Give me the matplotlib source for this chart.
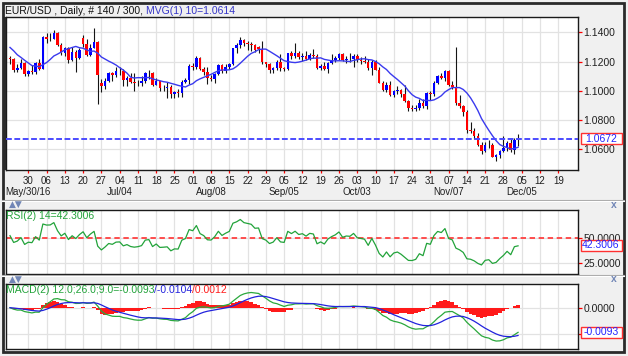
import numpy as np
import pandas as pd
import matplotlib
matplotlib.use("Agg")
import matplotlib.pyplot as plt
from matplotlib.patches import Rectangle
from matplotlib.lines import Line2D
from matplotlib.text import Annotation
from matplotlib.ticker import FormatStrFormatter

plt.rcParams['font.family'] = ['Liberation Sans', 'DejaVu Sans']

symbol_title = "EUR/USD , Daily, # 140 / 300, "
mvg_title = "MVG(1) 10=1.0614"
rsi_title = "RSI(2) 14=42.3006"
macd_title = ["MACD(2) 12.0;26.0;9.0=-0.0093", "/-0.0104", "/0.0012"]

last_price = 1.0672
last_rsi = 42.3006
last_macd = -0.0093

# closes before the first shown bar (Apr 22 - May 20), only used to warm up MA / RSI
pre_close = [1.1225, 1.1265, 1.1300, 1.1315, 1.1355, 1.1455, 1.1545, 1.1500, 1.1490, 1.1405,
             1.1405, 1.1385, 1.1373, 1.1428, 1.1370, 1.1310, 1.1313, 1.1314, 1.1217, 1.1202,
             1.1223]

# daily bars May 23 - Dec 02 2016, one line per week
opens = [1.1225, 1.1214, 1.1143, 1.1156, 1.1190,
         1.1114, 1.1135, 1.1130, 1.1187, 1.1152,
         1.1366, 1.1355, 1.1357, 1.1395, 1.1315,
         1.1255, 1.1290, 1.1212, 1.1262, 1.1226,
         1.1360, 1.1318, 1.1245, 1.1295, 1.1335,
         1.1055, 1.1030, 1.1070, 1.1120, 1.1105,
         1.1135, 1.1138, 1.1075, 1.1090, 1.1060,
         1.1050, 1.1055, 1.1065, 1.1120, 1.1125,
         1.1040, 1.1065, 1.1020, 1.1022, 1.1025,
         1.0975, 1.0990, 1.0988, 1.1060, 1.1075,
         1.1170, 1.1160, 1.1225, 1.1150, 1.1130,
         1.1085, 1.1082, 1.1115, 1.1175, 1.1135,
         1.1160, 1.1180, 1.1290, 1.1312, 1.1350,
         1.1325, 1.1318, 1.1312, 1.1300, 1.1285,
         1.1195, 1.1180, 1.1145, 1.1157, 1.1195,
         1.1155, 1.1150, 1.1255, 1.1235, 1.1260,
         1.1232, 1.1240, 1.1220, 1.1245, 1.1240,
         1.1155, 1.1170, 1.1150, 1.1190, 1.1210,
         1.1225, 1.1250, 1.1210, 1.1220, 1.1218,
         1.1240, 1.1210, 1.1205, 1.1200, 1.1155,
         1.1200, 1.1145, 1.1055, 1.1005, 1.1040,
         1.0970, 1.0998, 1.1005, 1.0975, 1.0930,
         1.0880, 1.0878, 1.0885, 1.0920, 1.0895,
         1.0985, 1.0975, 1.1055, 1.1100, 1.1090,
         1.1135, 1.1040, 1.1025, 1.0920, 1.0895,
         1.0855, 1.0735, 1.0725, 1.0690, 1.0630,
         1.0590, 1.0627, 1.0632, 1.0550, 1.0558,
         1.0587, 1.0612, 1.0645, 1.0593, 1.0664]
highs = [1.1240, 1.1225, 1.1180, 1.1215, 1.1200,
         1.1145, 1.1175, 1.1198, 1.1215, 1.1375,
         1.1392, 1.1395, 1.1415, 1.1405, 1.1330,
         1.1298, 1.1298, 1.1300, 1.1280, 1.1295,
         1.1380, 1.1355, 1.1318, 1.1428, 1.1340,
         1.1080, 1.1090, 1.1130, 1.1130, 1.1165,
         1.1160, 1.1150, 1.1100, 1.1120, 1.1120,
         1.1075, 1.1100, 1.1130, 1.1145, 1.1130,
         1.1085, 1.1070, 1.1040, 1.1060, 1.1040,
         1.1000, 1.1010, 1.1075, 1.1090, 1.1180,
         1.1190, 1.1235, 1.1230, 1.1165, 1.1165,
         1.1110, 1.1125, 1.1185, 1.1185, 1.1180,
         1.1190, 1.1295, 1.1325, 1.1368, 1.1355,
         1.1340, 1.1335, 1.1318, 1.1305, 1.1342,
         1.1200, 1.1190, 1.1165, 1.1210, 1.1250,
         1.1165, 1.1260, 1.1270, 1.1327, 1.1275,
         1.1255, 1.1270, 1.1255, 1.1285, 1.1250,
         1.1185, 1.1200, 1.1200, 1.1250, 1.1235,
         1.1260, 1.1260, 1.1240, 1.1255, 1.1250,
         1.1250, 1.1230, 1.1240, 1.1215, 1.1210,
         1.1210, 1.1160, 1.1070, 1.1060, 1.1070,
         1.1005, 1.1030, 1.1010, 1.1040, 1.0940,
         1.0900, 1.0900, 1.0945, 1.0945, 1.0990,
         1.1000, 1.1070, 1.1105, 1.1125, 1.1145,
         1.1140, 1.1070, 1.1300, 1.0970, 1.0900,
         1.0870, 1.0790, 1.0745, 1.0710, 1.0650,
         1.0650, 1.0665, 1.0640, 1.0570, 1.0595,
         1.0688, 1.0660, 1.0668, 1.0680, 1.0705]
lows = [1.1185, 1.1130, 1.1131, 1.1148, 1.1100,
        1.1100, 1.1116, 1.1118, 1.1145, 1.1146,
        1.1330, 1.1340, 1.1352, 1.1305, 1.1245,
        1.1237, 1.1193, 1.1205, 1.1130, 1.1220,
        1.1300, 1.1235, 1.1235, 1.1290, 1.0912,
        1.0990, 1.1010, 1.1060, 1.1070, 1.1095,
        1.1110, 1.1030, 1.1030, 1.1050, 1.1000,
        1.1035, 1.1030, 1.1050, 1.1080, 1.1030,
        1.1040, 1.1000, 1.1000, 1.0950, 1.0950,
        1.0950, 1.0955, 1.0955, 1.1050, 1.1045,
        1.1140, 1.1150, 1.1145, 1.1110, 1.1045,
        1.1070, 1.1055, 1.1105, 1.1125, 1.1120,
        1.1150, 1.1175, 1.1255, 1.1290, 1.1305,
        1.1280, 1.1272, 1.1262, 1.1255, 1.1180,
        1.1160, 1.1120, 1.1125, 1.1145, 1.1135,
        1.1135, 1.1140, 1.1220, 1.1225, 1.1220,
        1.1205, 1.1210, 1.1210, 1.1225, 1.1150,
        1.1145, 1.1140, 1.1120, 1.1180, 1.1195,
        1.1210, 1.1205, 1.1190, 1.1200, 1.1160,
        1.1195, 1.1180, 1.1190, 1.1140, 1.1105,
        1.1140, 1.1050, 1.1000, 1.0990, 1.0965,
        1.0960, 1.0980, 1.0960, 1.0925, 1.0865,
        1.0860, 1.0860, 1.0870, 1.0880, 1.0875,
        1.0940, 1.0965, 1.1045, 1.1080, 1.1070,
        1.1030, 1.1010, 1.0905, 1.0880, 1.0830,
        1.0710, 1.0710, 1.0670, 1.0620, 1.0570,
        1.0585, 1.0610, 1.0545, 1.0518, 1.0540,
        1.0580, 1.0590, 1.0580, 1.0565, 1.0625]
closes = [1.1214, 1.1143, 1.1156, 1.1190, 1.1114,
          1.1135, 1.1130, 1.1187, 1.1152, 1.1366,
          1.1355, 1.1357, 1.1395, 1.1315, 1.1255,
          1.1290, 1.1212, 1.1262, 1.1226, 1.1278,
          1.1318, 1.1245, 1.1295, 1.1335, 1.1110,
          1.1030, 1.1070, 1.1120, 1.1105, 1.1135,
          1.1138, 1.1075, 1.1090, 1.1060, 1.1050,
          1.1055, 1.1065, 1.1120, 1.1125, 1.1040,
          1.1065, 1.1020, 1.1022, 1.1025, 1.0975,
          1.0990, 1.0988, 1.1060, 1.1075, 1.1170,
          1.1160, 1.1225, 1.1150, 1.1130, 1.1085,
          1.1082, 1.1115, 1.1175, 1.1135, 1.1160,
          1.1180, 1.1290, 1.1312, 1.1350, 1.1325,
          1.1318, 1.1312, 1.1282, 1.1285, 1.1195,
          1.1180, 1.1145, 1.1157, 1.1195, 1.1155,
          1.1150, 1.1255, 1.1235, 1.1260, 1.1232,
          1.1240, 1.1220, 1.1245, 1.1240, 1.1155,
          1.1170, 1.1150, 1.1190, 1.1210, 1.1225,
          1.1250, 1.1210, 1.1220, 1.1218, 1.1240,
          1.1210, 1.1205, 1.1200, 1.1155, 1.1200,
          1.1145, 1.1055, 1.1005, 1.1040, 1.0970,
          1.0998, 1.1005, 1.0975, 1.0930, 1.0880,
          1.0878, 1.0885, 1.0920, 1.0895, 1.0985,
          1.0975, 1.1055, 1.1100, 1.1090, 1.1135,
          1.1040, 1.1025, 1.0920, 1.0895, 1.0855,
          1.0735, 1.0725, 1.0690, 1.0630, 1.0590,
          1.0627, 1.0632, 1.0550, 1.0558, 1.0587,
          1.0612, 1.0645, 1.0593, 1.0664, 1.0672]

month_labels = ["May/30/16", "Jul/04", "Aug/08", "Sep/05", "Oct/03", "Nov/07", "Dec/05"]
month_dates = ["2016-05-30", "2016-07-04", "2016-08-08", "2016-09-05",
               "2016-10-03", "2016-11-07", "2016-12-05"]

n = len(closes)
dates = pd.bdate_range("2016-05-23", periods=n + 11)
week_ticks = [i for i, d in enumerate(dates) if d.weekday() == 0 and i > 0]
week_labels = [dates[i].strftime("%d") for i in week_ticks]
month_pos = [dates.get_loc(pd.Timestamp(d)) for d in month_dates]

# indicators
cs = pd.Series(pre_close + closes)
ma10 = cs.rolling(10).mean().iloc[len(pre_close):].to_numpy()
delta = cs.diff()
gain = delta.clip(lower=0).ewm(alpha=1 / 14, adjust=False).mean()
loss = (-delta.clip(upper=0)).ewm(alpha=1 / 14, adjust=False).mean()
rsi = (100 - 100 / (1 + gain / loss)).iloc[len(pre_close):].to_numpy()
c = pd.Series(closes)
macd = c.ewm(span=12, adjust=False).mean() - c.ewm(span=26, adjust=False).mean()
signal = macd.ewm(span=9, adjust=False).mean()
hist = macd - signal

W, H = 628, 356
BG = '#f0f0f0'
GRID = '#e2e2e2'
GREEN = '#22a33a'
BLUE = '#2222dd'
RED = '#ff1a1a'


def rect(x0, y0, x1, y1):
    return [x0 / W, 1 - y1 / H, (x1 - x0) / W, (y1 - y0) / H]


fig = plt.figure(figsize=(W / 100, H / 100), dpi=100, facecolor=BG)
ax = fig.add_axes(rect(5.5, 17, 578, 170))
ax_rsi = fig.add_axes(rect(5.5, 210, 578, 274))
ax_macd = fig.add_axes(rect(5.5, 284, 578, 349))

x = np.arange(n)
o, hi, lo, cl = map(np.array, (opens, highs, lows, closes))
body = cl - o
body = np.where(np.abs(body) < 0.00015, 0.00015, body)
colors = np.where(cl >= o, '#0000ff', '#ff0000')

ax.vlines(x, lo, hi, color='#151515', lw=0.8, zorder=2)
ax.bar(x, body, bottom=o, width=0.7, color=colors, zorder=3)
ax.plot(x, ma10, color='#3a3aee', lw=1.0, zorder=4)
ax.axhline(last_price, color='#4b4bff', lw=1.4, ls=(0, (3, 1.3)), zorder=5)

ax.set_ylim(1.04587, 1.15044)
ax.set_yticks([1.06, 1.08, 1.10, 1.12, 1.14])
ax.yaxis.set_major_formatter(FormatStrFormatter('%.4f'))

ax_rsi.plot(x, rsi, color=GREEN, lw=0.9, zorder=3)
ax_rsi.axhline(50, color='#ff4040', lw=1.3, ls=(0, (3, 2)), zorder=2)
ax_rsi.set_ylim(13.7, 77.7)
ax_rsi.set_yticks([25, 50])
ax_rsi.yaxis.set_major_formatter(FormatStrFormatter('%.4f'))

ax_macd.bar(x, hist, width=1.0, color=RED, zorder=2)
ax_macd.plot(x, macd, color='#2aa83c', lw=0.9, zorder=3)
ax_macd.plot(x, signal, color=BLUE, lw=0.9, zorder=3)
ax_macd.set_ylim(-0.01555, 0.00892)
ax_macd.set_yticks([-0.01, 0.0])
ax_macd.set_yticklabels(['', '0.0000'])

for a in (ax, ax_rsi, ax_macd):
    a.set_facecolor('white')
    a.set_xlim(-1.23, 155.4)
    a.set_xticks(week_ticks)
    a.grid(True, color=GRID, lw=0.9)
    a.set_axisbelow(True)
    a.yaxis.tick_right()
    a.tick_params(axis='y', direction='out', length=3, width=0.9, color='#ff0000',
                  pad=1, labelsize=7.5, labelcolor='#202020')
    for s in a.spines.values():
        s.set_color('#1a1a1a')
        s.set_linewidth(1.0)

ax.set_xticklabels(week_labels)
ax.tick_params(axis='x', direction='out', length=2.5, width=0.9, color='#ff0000',
               pad=2, labelsize=7, labelcolor='#202020')
for a in (ax_rsi, ax_macd):
    a.tick_params(axis='x', length=0, labelbottom=False)

for lab, p in zip(month_labels, month_pos):
    ax.annotate(lab, xy=(p, 0), xycoords=('data', 'axes fraction'), xytext=(0, -15.8),
                textcoords='offset points', ha='center', va='center', fontsize=7,
                color='#202020', annotation_clip=False)

# title bar
t1 = fig.text(5 / W, 1 - 10.5 / H, symbol_title, fontsize=7.5, color='#101010', va='center')
fig.add_artist(Annotation(mvg_title, xy=(1, 0), xycoords=t1, va='bottom', ha='left',
                          fontsize=7.5, color='#3535c8'))

# panel labels
ax_rsi.text(0.0, 1 - 6 / 64, rsi_title, transform=ax_rsi.transAxes, fontsize=7.5,
            color=GREEN, va='center', ha='left')
m1 = ax_macd.text(0.0, 1 - 6 / 65, macd_title[0], transform=ax_macd.transAxes,
                  fontsize=7.5, color=GREEN, va='center', ha='left')
m2 = ax_macd.annotate(macd_title[1], xy=(1, 0), xycoords=m1, va='bottom', ha='left',
                      fontsize=7.5, color=BLUE)
ax_macd.annotate(macd_title[2], xy=(1, 0), xycoords=m2, va='bottom', ha='left',
                 fontsize=7.5, color=RED)


def value_box(a, val, txt):
    y = a.transData.transform((0, val))[1] / fig.bbox.height
    fig.add_artist(Rectangle((580.5 / W, y - 5.5 / H), 41 / W, 11 / H, transform=fig.transFigure,
                             fc='white', ec='#ff3030', lw=1.0, zorder=5))
    fig.text(601 / W, y, txt, ha='center', va='center', color='#2323ff', fontsize=7.5, zorder=6)


value_box(ax, last_price, f"{last_price:.4f}")
value_box(ax_rsi, last_rsi, f"{last_rsi:.4f}")
value_box(ax_macd, last_macd, f"{last_macd:.4f}")

# separators, panel buttons and outer frame
for yy, yb in ((199.5, 204.5), (275.0, 279.5)):
    fig.add_artist(Line2D([2 / W, 624 / W], [1 - yy / H] * 2, color='#a9a9a9', lw=0.8))
    fig.add_artist(Line2D([2 / W, 624 / W], [1 - (yy + 1.2) / H] * 2, color='white', lw=0.8))
    fig.text(9 / W, 1 - yb / H, "\u25b2\u25bc", fontsize=6.5, color='#7186b6', va='center',
             family='DejaVu Sans')
    fig.text(613.5 / W, 1 - yb / H, "x", fontsize=7.5, fontweight='bold', color='#7186b6',
             va='center', ha='center')

# thick dark left edge next to the price panel
fig.add_artist(Rectangle((2.5 / W, 1 - 170 / H), 3.5 / W, 153 / H, transform=fig.transFigure,
                         fc='#2a2a2a', ec='none'))
fig.add_artist(Rectangle((2.5 / W, 1 - 351.5 / H), 621.5 / W, 349 / H, transform=fig.transFigure,
                         fill=False, ec='#2a2a2a', lw=2.0))

fig.savefig("out.png", dpi=100, facecolor=BG)
